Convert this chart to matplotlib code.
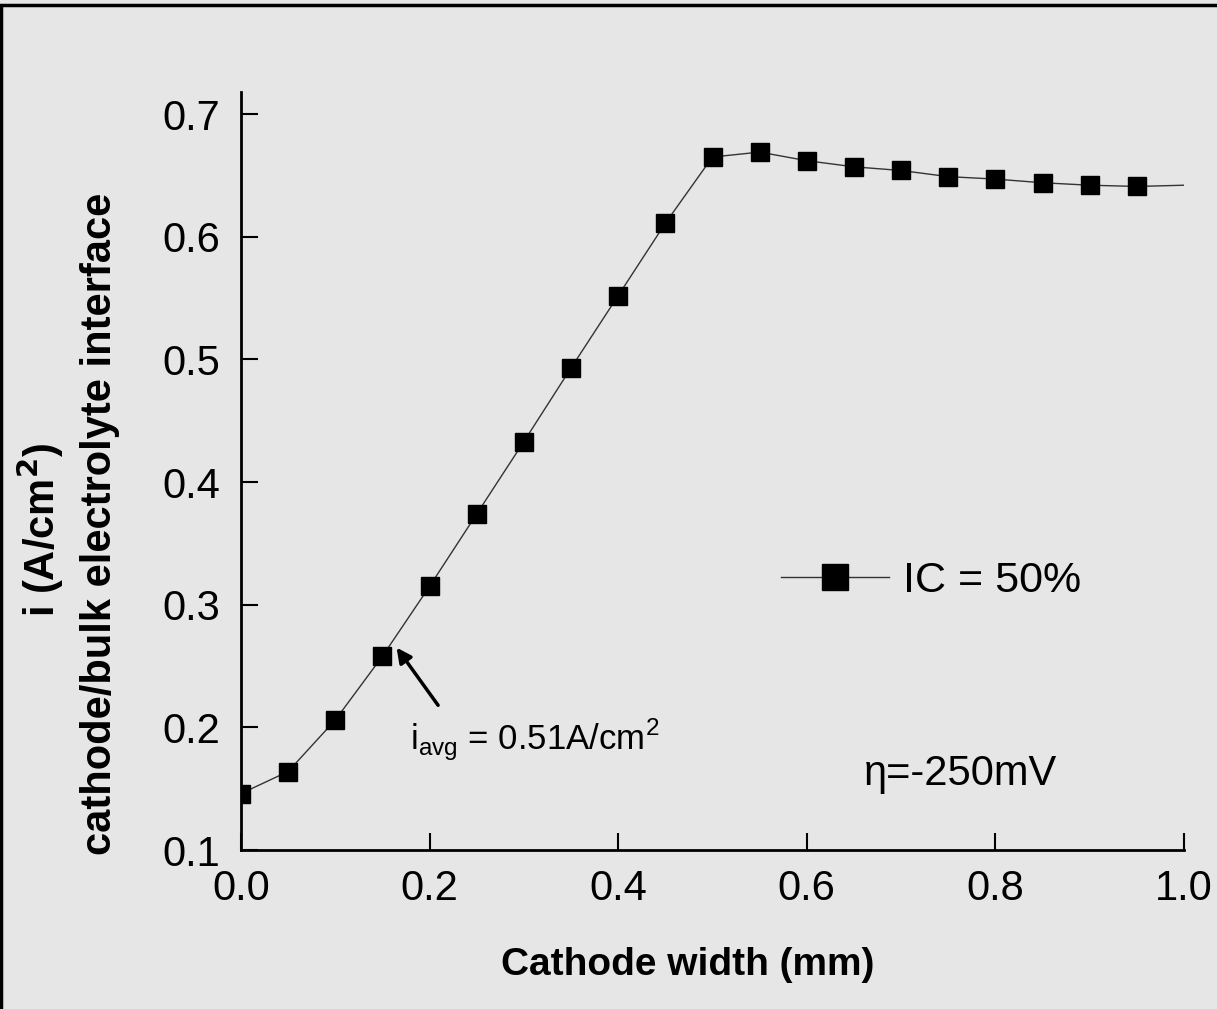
import matplotlib.pyplot as plt
from matplotlib.patches import Rectangle

plt.rcParams['font.family'] = ['Liberation Sans', 'DejaVu Sans']

# 데이터
width_mm = [0.0, 0.05, 0.10, 0.15, 0.20, 0.25, 0.30, 0.35, 0.40, 0.45,
            0.50, 0.55, 0.60, 0.65, 0.70, 0.75, 0.80, 0.85, 0.90, 0.95, 1.0]
current = [0.146, 0.164, 0.206, 0.258, 0.315, 0.374, 0.433, 0.493, 0.552, 0.611,
           0.665, 0.669, 0.662, 0.657, 0.654, 0.649, 0.647, 0.644, 0.642, 0.641, 0.642]
x_ticks = [0.0, 0.2, 0.4, 0.6, 0.8, 1.0]
y_ticks = [0.1, 0.2, 0.3, 0.4, 0.5, 0.6, 0.7]

W, H = 1217, 1009
bg = '#e6e6e6'
fig = plt.figure(figsize=(W / 100, H / 100), dpi=100, facecolor=bg)
ax = fig.add_axes([241 / W, 1 - 850 / H, (1184 - 241) / W, (850 - 92) / H])
ax.set_facecolor(bg)

# 곡선 + 사각 마커 (마지막 점은 선만)
ax.plot(width_mm, current, color='#333333', lw=1.0,
        marker='s', ms=13, mfc='black', mec='black',
        markevery=list(range(len(width_mm) - 1)), label='IC = 50%')

ax.set_xlim(0, 1.0)
ax.set_ylim(0.1, 0.718)
ax.set_xticks(x_ticks)
ax.set_yticks(y_ticks)
ax.set_xticklabels([f'{v:.1f}' for v in x_ticks])
ax.set_yticklabels([f'{v:.1f}' for v in y_ticks])

for s in ['top', 'right']:
    ax.spines[s].set_visible(False)
for s in ['left', 'bottom']:
    ax.spines[s].set_linewidth(2)
ax.tick_params(direction='in', length=12, width=1.5, labelsize=30)
ax.tick_params(axis='x', pad=14)
ax.tick_params(axis='y', pad=15)

# 축 제목
fig.text(688 / W, 1 - 975 / H, 'Cathode width (mm)', fontsize=28,
         fontweight='bold', ha='center', va='baseline')
fig.text(40 / W, 1 - 530 / H, 'i (A/cm$^\\mathbf{2}$)', fontsize=30,
         fontweight='bold', rotation=90, ha='center', va='center')
fig.text(100 / W, 1 - 524 / H, 'cathode/bulk electrolyte interface', fontsize=30,
         fontweight='bold', rotation=90, ha='center', va='center')

# 범례
fig.legend(loc='center left', bbox_to_anchor=(781 / W, 1 - 581 / H), frameon=False,
           fontsize=31, handlelength=2.5, handletextpad=0.33, borderpad=0,
           borderaxespad=0, markerscale=1.4)

ax.text(0.661, 0.153, 'η=-250mV', fontsize=30)

# 평균 전류 주석
ax.text(0.179, 0.1815, 'i$_{\\mathregular{avg}}$ = 0.51A/cm$^{\\mathregular{2}}$',
        fontsize=25, ha='left', va='baseline')
ax.annotate('', xy=(0.165, 0.265), xytext=(0.209, 0.218),
            arrowprops=dict(arrowstyle='-|>', color='black', lw=2.5,
                            mutation_scale=22, shrinkA=0, shrinkB=0))

# 바깥 테두리 (위/왼쪽)
fig.patches.append(Rectangle((0.001, -0.05), 1.1, 1.045, transform=fig.transFigure,
                             fill=False, ec='black', lw=2.5))

fig.savefig('out.png', dpi=100, facecolor=bg)
